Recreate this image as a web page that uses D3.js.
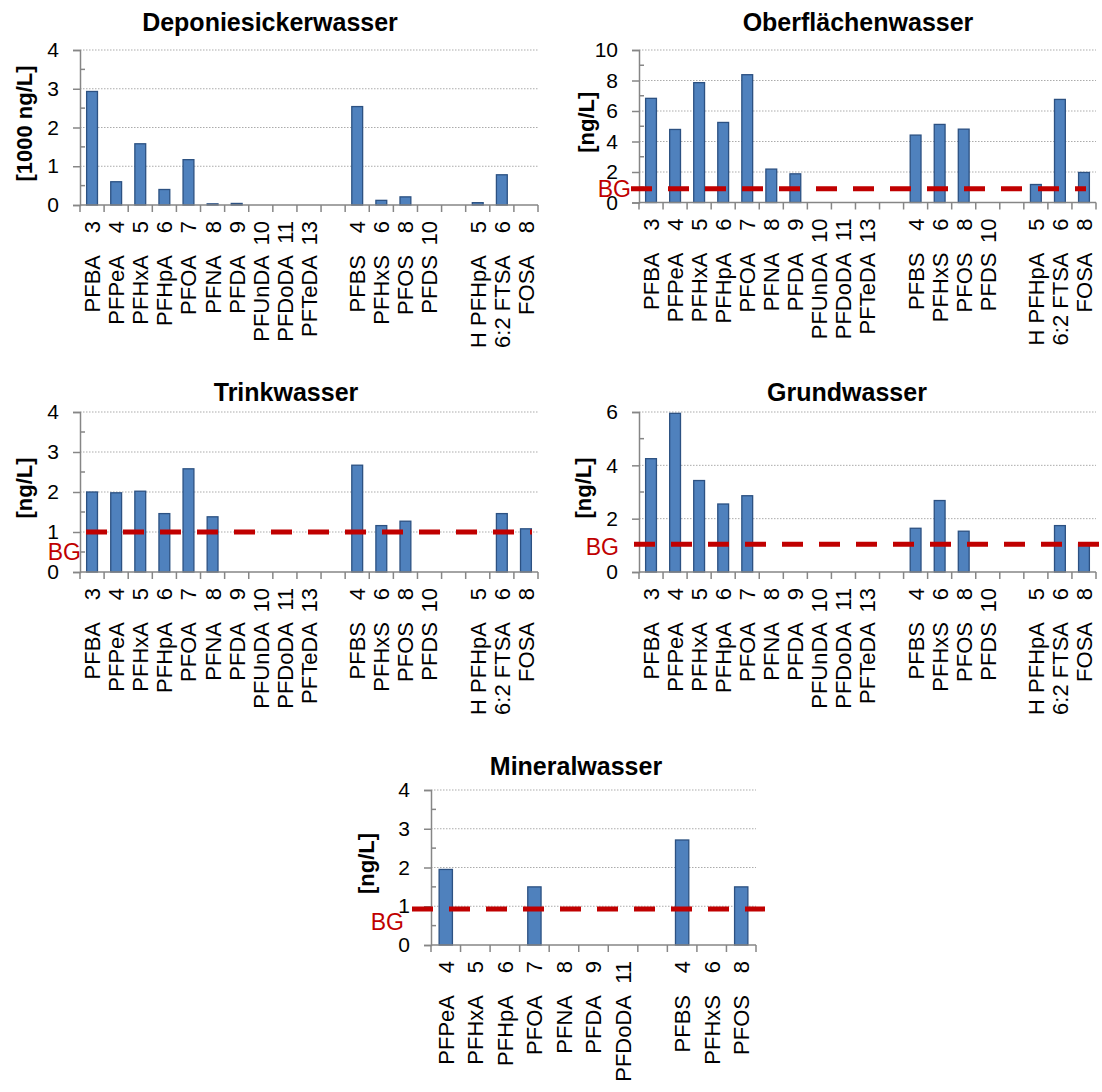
<!DOCTYPE html>
<html>
<head>
<meta charset="utf-8">
<script src="https://cdn.jsdelivr.net/npm/d3@7"></script>
<style>
  body { margin: 0; background: #fff; }
  svg { font-family: "Liberation Sans", Arial, sans-serif; }
</style>
</head>
<body>
<svg id="chart" width="1102" height="1092"></svg>
<script>
// categories shared by the first four charts (empty strings = gap slots)
var compounds = ["PFBA", "PFPeA", "PFHxA", "PFHpA", "PFOA", "PFNA", "PFDA", "PFUnDA", "PFDoDA", "PFTeDA", "",
    "PFBS", "PFHxS", "PFOS", "PFDS", "", "H PFHpA", "6:2 FTSA", "FOSA"];
var chainLengths = ["3", "4", "5", "6", "7", "8", "9", "10", "11", "13", "", "4", "6", "8", "10", "", "5", "6", "8"];

var mineralCompounds = ["PFPeA", "PFHxA", "PFHpA", "PFOA", "PFNA", "PFDA", "PFDoDA", "", "PFBS", "PFHxS", "PFOS"];
var mineralChains = ["4", "5", "6", "7", "8", "9", "11", "", "4", "6", "8"];

// values (null = gap slot)
var deponieValues = [2.93, 0.6, 1.58, 0.4, 1.17, 0.03, 0.04, 0, 0, 0, null, 2.54, 0.12, 0.21, 0, null, 0.06, 0.78, 0];
var oberflaecheValues = [6.83, 4.79, 7.86, 5.25, 8.38, 2.19, 1.88, 0, 0, 0, null, 4.42, 5.12, 4.81, 0, null, 1.18, 6.76, 1.97];
var trinkValues = [2.0, 1.98, 2.02, 1.46, 2.58, 1.38, 0, 0, 0, 0, null, 2.67, 1.16, 1.27, 0, null, 0, 1.46, 1.08];
var grundValues = [4.25, 5.95, 3.43, 2.55, 2.86, 0, 0, 0, 0, 0, null, 1.64, 2.68, 1.53, 0, null, 0, 1.74, 1.05];
var mineralValues = [1.95, 0, 0, 1.5, 0, 0, 0, null, 2.71, 0, 1.5];

// Bestimmungsgrenze (BG)
var bgValues = [null, 0.9, 1.0, 1.04, 0.93];

var titles = ["Deponiesickerwasser", "Oberflächenwasser", "Trinkwasser", "Grundwasser", "Mineralwasser"];
var unitLabels = ["[1000 ng/L]", "[ng/L]", "[ng/L]", "[ng/L]", "[ng/L]"];
var yMax = [4, 10, 4, 6, 4];
var yStep = [1, 2, 1, 2, 1];

// layout of each panel on the page
var panels = [
    { left: 80, right: 538, top: 50, bottom: 205, titleX: 270, titleY: 22, yTitleX: 24, bgX: null, bgDy: 0, lineX: null },
    { left: 639, right: 1096, top: 50, bottom: 202.5, titleX: 858, titleY: 22, yTitleX: 586, bgX: 631, bgDy: 0, lineX: [631, 1086] },
    { left: 80, right: 538, top: 412, bottom: 572, titleX: 286, titleY: 392, yTitleX: 24, bgX: 81, bgDy: 20, lineX: [86, 532] },
    { left: 639, right: 1096, top: 412, bottom: 572, titleX: 847, titleY: 392, yTitleX: 583, bgX: 619, bgDy: 2, lineX: [634, 1102] },
    { left: 431, right: 756, top: 790, bottom: 945, titleX: 576, titleY: 766, yTitleX: 366, bgX: 404, bgDy: 13, lineX: [412, 765] }
];

var seriesValues = [deponieValues, oberflaecheValues, trinkValues, grundValues, mineralValues];

var svg = d3.select("#chart");
var axisColor = "#868686";

function drawPanel(i) {
    var p = panels[i];
    var values = seriesValues[i];
    var names = i === 4 ? mineralCompounds : compounds;
    var chains = i === 4 ? mineralChains : chainLengths;
    var idx = d3.range(values.length);

    var x = d3.scaleBand().domain(idx).range([p.left, p.right]).paddingInner(0.55).paddingOuter(0.275);
    var slot = d3.scaleBand().domain(idx).range([p.left, p.right]);
    var y = d3.scaleLinear().domain([0, yMax[i]]).range([p.bottom, p.top]);

    var g = svg.append("g");

    // title
    g.append("text")
        .attr("x", p.titleX).attr("y", p.titleY).attr("dy", "0.36em")
        .attr("text-anchor", "middle")
        .style("font-size", "25px").style("font-weight", "bold")
        .text(titles[i]);

    // gridlines
    var majors = d3.range(0, yMax[i] + 0.001, yStep[i]);
    var minors = d3.range(yStep[i] / 2, yMax[i], yStep[i]);
    g.selectAll(".grid").data(majors.slice(1)).enter().append("line")
        .attr("x1", p.left).attr("x2", p.right)
        .attr("y1", function (d) { return y(d); }).attr("y2", function (d) { return y(d); })
        .attr("stroke", "#ababab").attr("stroke-width", 1).attr("stroke-dasharray", "1.5,1.5");

    // bars
    g.selectAll(".bar").data(idx.filter(function (k) { return values[k] > 0; })).enter().append("rect")
        .attr("x", function (k) { return x(k); })
        .attr("width", x.bandwidth())
        .attr("y", function (k) { return y(values[k]); })
        .attr("height", function (k) { return y(0) - y(values[k]); })
        .attr("fill", "#4f81bd").attr("stroke", "#2c5182").attr("stroke-width", 1.3);

    // y axis
    var yAxis = d3.axisLeft(y).tickValues(majors).tickSize(7).tickPadding(14).tickFormat(d3.format("d"));
    var ya = g.append("g").attr("transform", "translate(" + p.left + ",0)").call(yAxis);
    ya.select(".domain").attr("stroke", axisColor).attr("stroke-width", 1.5);
    ya.selectAll(".tick line").attr("stroke", axisColor).attr("stroke-width", 1.5);
    ya.selectAll(".tick text").style("font-size", "21px").style("font-family", "Liberation Sans, Arial, sans-serif").attr("fill", "#000");
    g.selectAll(".minor").data(minors).enter().append("line")
        .attr("x1", p.left).attr("x2", p.left + 5)
        .attr("y1", function (d) { return y(d); }).attr("y2", function (d) { return y(d); })
        .attr("stroke", axisColor).attr("stroke-width", 1.5);

    // x axis with tick marks between categories
    g.append("line").attr("x1", p.left).attr("x2", p.right)
        .attr("y1", y(0)).attr("y2", y(0))
        .attr("stroke", axisColor).attr("stroke-width", 1.5);
    g.selectAll(".xtick").data(idx.concat([values.length])).enter().append("line")
        .attr("x1", function (k) { return k < values.length ? slot(k) : p.right; })
        .attr("x2", function (k) { return k < values.length ? slot(k) : p.right; })
        .attr("y1", y(0)).attr("y2", y(0) + 7)
        .attr("stroke", axisColor).attr("stroke-width", 1.5);

    // category labels: chain length near the axis, compound name below
    var labels = g.selectAll(".xlab").data(idx).enter().append("g");
    labels.append("text")
        .attr("transform", function (k) {
            return "translate(" + (slot(k) + slot.bandwidth() / 2) + "," + (y(0) + 16) + ") rotate(-90)";
        })
        .attr("text-anchor", "end").attr("dy", "0.36em")
        .style("font-size", "22px")
        .text(function (k) { return chains[k]; });
    labels.append("text")
        .attr("transform", function (k) {
            return "translate(" + (slot(k) + slot.bandwidth() / 2) + "," + (y(0) + 50) + ") rotate(-90)";
        })
        .attr("text-anchor", "end").attr("dy", "0.36em")
        .style("font-size", "22px")
        .text(function (k) { return names[k]; });

    // unit label
    g.append("text")
        .attr("transform", "translate(" + p.yTitleX + "," + ((p.top + p.bottom) / 2 - 4) + ") rotate(-90)")
        .attr("text-anchor", "middle").attr("dy", "0.36em")
        .style("font-size", "22px").style("font-weight", "bold")
        .text(unitLabels[i]);

    // BG line
    if (bgValues[i] !== null) {
        g.append("line")
            .attr("x1", p.lineX[0]).attr("x2", p.lineX[1])
            .attr("y1", y(bgValues[i])).attr("y2", y(bgValues[i]))
            .attr("stroke", "#c00000").attr("stroke-width", 5).attr("stroke-dasharray", "21,16");
        g.append("text")
            .attr("x", p.bgX).attr("y", y(bgValues[i]) + p.bgDy).attr("dy", "0.36em")
            .attr("text-anchor", "end")
            .style("font-size", "23px").attr("fill", "#c00000")
            .text("BG");
    }
}

for (var i = 0; i < panels.length; i++) {
    drawPanel(i);
}
</script>
</body>
</html>
